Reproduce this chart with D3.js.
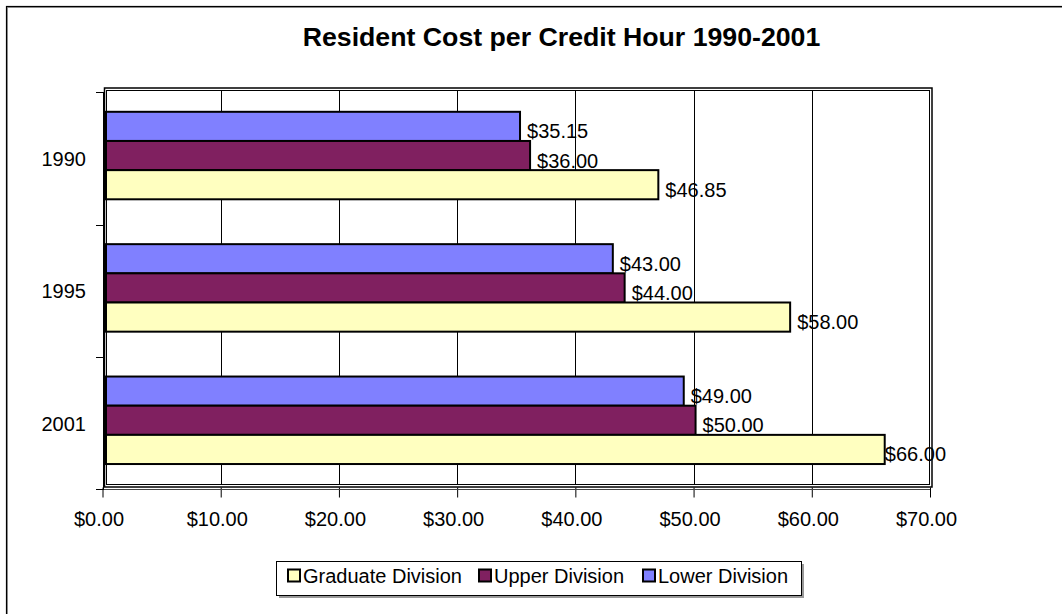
<!DOCTYPE html>
<html>
<head>
<meta charset="utf-8">
<script src="https://cdn.jsdelivr.net/npm/d3@7"></script>
<style>
  html, body { margin: 0; padding: 0; background: #fff; }
  svg { display: block; font-family: "Liberation Sans", Arial, sans-serif; }
</style>
</head>
<body>
<svg id="chart" width="1062" height="614"></svg>
<script>
// ---- data ----
const years = ["1990", "1995", "2001"];
const lowerDivision = [35.15, 43.00, 49.00];
const upperDivision = [36.00, 44.00, 50.00];
const graduateDivision = [46.85, 58.00, 66.00];
const seriesKeys = ["Lower Division", "Upper Division", "Graduate Division"]; // top-to-bottom in each group
const legendKeys = ["Graduate Division", "Upper Division", "Lower Division"];
const xTickValues = [0, 10, 20, 30, 40, 50, 60, 70];
const titleText = "Resident Cost per Credit Hour 1990-2001";

const seriesValues = {
  "Lower Division": lowerDivision,
  "Upper Division": upperDivision,
  "Graduate Division": graduateDivision
};
const colors = {
  "Lower Division": "#8080FF",
  "Upper Division": "#802060",
  "Graduate Division": "#FFFFC0"
};

const svg = d3.select("#chart");

// outer chart border
svg.append("rect").attr("x", 7.5).attr("y", 7.5).attr("width", 1100).attr("height", 700)
  .attr("fill", "none").attr("stroke", "#999").attr("stroke-width", 1);
svg.append("rect").attr("x", 6.5).attr("y", 6.5).attr("width", 1100).attr("height", 700)
  .attr("fill", "none").attr("stroke", "#000").attr("stroke-width", 1.2);

// title
svg.append("text").attr("x", 561.5).attr("y", 45.5).attr("text-anchor", "middle")
  .attr("font-size", 26.7).attr("font-weight", "bold").attr("fill", "#000").text(titleText);

// scales
const x = d3.scaleLinear().domain([0, 70]).range([102.5, 930]);
const y0 = d3.scaleBand().domain(years).range([92.3, 489.4]);
const y1 = d3.scaleBand().domain(seriesKeys).range([19.5, 107]);

// gridlines
svg.append("g").selectAll("line").data(xTickValues.filter(v => v > 0 && v < 70)).join("line")
  .attr("x1", d => Math.round(x(d)) + 0.5).attr("x2", d => Math.round(x(d)) + 0.5)
  .attr("y1", 90).attr("y2", 485)
  .attr("stroke", "#000").attr("stroke-width", 1);

// bars
const barData = [];
years.forEach((yr, i) => {
  seriesKeys.forEach(k => barData.push({ year: yr, key: k, value: seriesValues[k][i] }));
});
const barLeft = 106;
const bars = svg.append("g");
bars.selectAll("rect").data(barData).join("rect")
  .attr("x", barLeft)
  .attr("y", d => y0(d.year) + y1(d.key))
  .attr("width", d => x(d.value) + 2 - barLeft)
  .attr("height", y1.bandwidth())
  .attr("fill", d => colors[d.key])
  .attr("stroke", "#000").attr("stroke-width", 2);

// plot area border (double line look)
svg.append("rect").attr("x", 104.5).attr("y", 88).attr("width", 827.5).attr("height", 399)
  .attr("fill", "none").attr("stroke", "#000").attr("stroke-width", 1.5);
svg.append("rect").attr("x", 106.5).attr("y", 90.5).attr("width", 823).attr("height", 394)
  .attr("fill", "none").attr("stroke", "#000").attr("stroke-width", 1);

// value labels
const fmt = d3.format("$.2f");
const labels = svg.append("g").attr("font-size", 20).attr("fill", "#000");
labels.selectAll("text").data(barData).join("text")
  .attr("y", d => y0(d.year) + y1(d.key) + y1.bandwidth() / 2 + 12)
  .text(d => fmt(d.value))
  .attr("x", function(d) {
    const w = this.getComputedTextLength();
    return Math.min(x(d.value) + 3 + 6, 946 - w);
  });

// x axis
const xAxis = d3.axisBottom(x).tickValues(xTickValues).tickFormat(fmt).tickSize(8).tickSizeOuter(0);
const gx = svg.append("g").attr("transform", "translate(0,489.5)").call(xAxis);
gx.select(".domain").remove();
gx.selectAll(".tick line").attr("y1", -2).attr("y2", 8).attr("stroke", "#000");
gx.selectAll(".tick text").attr("y", 36.5).attr("dy", 0).attr("dx", -4)
  .attr("font-size", 20).attr("font-family", "Liberation Sans, Arial, sans-serif").attr("fill", "#000");
svg.append("line").attr("x1", 96).attr("x2", 930).attr("y1", 489.5).attr("y2", 489.5)
  .attr("stroke", "#444").attr("stroke-width", 1);

// category axis
svg.append("line").attr("x1", 103.5).attr("x2", 103.5).attr("y1", 92).attr("y2", 489.5)
  .attr("stroke", "#000").attr("stroke-width", 1);
const catTicks = years.map(d => y0(d)).concat([y0.range()[1]]);
svg.append("g").selectAll("line").data(catTicks).join("line")
  .attr("x1", 96).attr("x2", 104).attr("y1", d => Math.round(d) + 0.5).attr("y2", d => Math.round(d) + 0.5)
  .attr("stroke", "#000");
svg.append("g").selectAll("text").data(years).join("text")
  .attr("x", 86).attr("y", d => y0(d) + y0.bandwidth() / 2 + 7.5)
  .attr("text-anchor", "end").attr("font-size", 20).attr("fill", "#000").text(d => d);

// legend
const legendX = [288, 479, 643];
const lg = svg.append("g");
lg.append("rect").attr("x", 279).attr("y", 564).attr("width", 525).attr("height", 34)
  .attr("fill", "#999");
lg.append("rect").attr("x", 276.5).attr("y", 561.5).attr("width", 525).attr("height", 34)
  .attr("fill", "#fff").attr("stroke", "#000").attr("stroke-width", 1);
const items = lg.selectAll("g.item").data(legendKeys).join("g").attr("class", "item")
  .attr("transform", (d, i) => `translate(${legendX[i]},0)`);
items.append("rect").attr("x", 0).attr("y", 569.5).attr("width", 12).attr("height", 12)
  .attr("fill", d => colors[d]).attr("stroke", "#000").attr("stroke-width", 2);
items.append("text").attr("x", 15).attr("y", 583).attr("font-size", 20).attr("fill", "#000").text(d => d);
</script>
</body>
</html>
